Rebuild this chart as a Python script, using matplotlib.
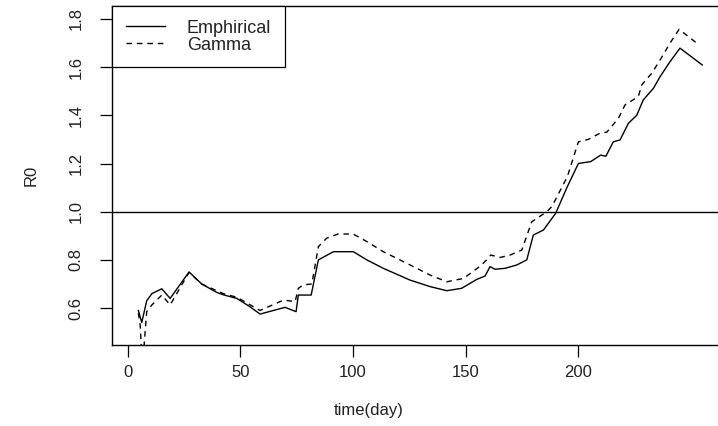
import matplotlib
matplotlib.use("Agg")
import matplotlib.pyplot as plt

plt.rcParams['font.family'] = ['Liberation Sans', 'DejaVu Sans']

# values
emp_day = [4.7, 6.2, 8.4, 10.7, 15.1, 18.8, 27.2, 32.8, 39.5, 42.4, 48.4, 54.3,
           58.7, 69.8, 74.7, 75.7, 81.4, 84.6, 91.3, 100.1, 106.1, 113.4, 125.3,
           134.2, 141.6, 148.2, 154.9, 158.6, 160.8, 163.0, 167.5, 172.7, 177.1,
           180.0, 184.5, 189.9, 195.1, 200.0, 205.5, 209.9, 212.2, 215.5, 218.5,
           222.2, 225.9, 228.8, 233.3, 236.3, 240.7, 245.1, 255.0]
emp_r0 = [0.59, 0.54, 0.63, 0.66, 0.68, 0.64, 0.75, 0.70, 0.665, 0.655, 0.64, 0.605,
          0.575, 0.603, 0.585, 0.654, 0.654, 0.80, 0.834, 0.834, 0.80, 0.765, 0.716,
          0.689, 0.672, 0.682, 0.719, 0.733, 0.772, 0.761, 0.765, 0.779, 0.80,
          0.903, 0.924, 0.993, 1.104, 1.20, 1.208, 1.235, 1.23, 1.29, 1.298,
          1.367, 1.40, 1.464, 1.512, 1.561, 1.623, 1.679, 1.609]

gam_day = [4.7, 5.5, 6.3, 7.2, 8.4, 10.7, 15.1, 18.8, 27.2, 32.8, 42.4, 48.4,
           58.7, 69.1, 74.3, 75.7, 77.9, 81.7, 84.6, 88.3, 93.5, 100.1, 106.1,
           113.4, 125.3, 134.2, 141.6, 149.0, 156.4, 159.3, 161.1, 165.2, 169.7,
           174.9, 179.3, 186.0, 188.2, 195.1, 200.0, 204.4, 209.6, 212.6, 217.8,
           220.7, 226.6, 228.1, 232.6, 236.3, 240.7, 244.7, 253.6]
gam_r0 = [0.58, 0.53, 0.38, 0.44, 0.585, 0.613, 0.654, 0.613, 0.748, 0.70, 0.66, 0.645,
          0.59, 0.633, 0.627, 0.682, 0.696, 0.70, 0.855, 0.89, 0.908, 0.907, 0.876,
          0.834, 0.779, 0.737, 0.709, 0.723, 0.774, 0.80, 0.82, 0.81, 0.82,
          0.841, 0.958, 1.0, 1.021, 1.145, 1.29, 1.30, 1.326, 1.33, 1.388,
          1.443, 1.478, 1.526, 1.575, 1.63, 1.70, 1.757, 1.692]

x_ticks = [0, 50, 100, 150, 200]
y_ticks = [0.6, 0.8, 1.0, 1.2, 1.4, 1.6, 1.8]

fig = plt.figure(figsize=(7.18, 4.26), dpi=100)
# plot box runs past the right edge of the picture, as in the reference
ax = fig.add_axes([0.156, 0.190, 0.8535, 0.796])

ax.plot(emp_day, emp_r0, color='black', lw=1.0, label='Emphirical')
ax.plot(gam_day, gam_r0, color='black', lw=1.0, linestyle=(0, (4, 3.5)), label='Gamma')
ax.axhline(1.0, color='black', lw=1.0)

ax.set_xlim(-7.0, 265.0)
ax.set_ylim(0.4464, 1.854)
ax.set_xticks(x_ticks)
ax.set_yticks(y_ticks)
ax.set_xticklabels([str(t) for t in x_ticks])
ax.set_yticklabels(['%.1f' % t for t in y_ticks])

for side in ['left', 'bottom', 'top', 'right']:
    ax.spines[side].set_linewidth(1.0)
    ax.spines[side].set_color('black')

ax.tick_params(axis='both', direction='out', length=8.6, width=0.9,
               colors='black', labelcolor='#222222', labelsize=12)
ax.tick_params(axis='x', pad=6)
ax.tick_params(axis='y', pad=12)
for t in ax.get_yticklabels():
    t.set_rotation(90)
    t.set_va('center')

ax.set_xlabel('time(day)', fontsize=12, color='#222222')
ax.set_ylabel('R0', fontsize=12, color='#222222')
ax.xaxis.set_label_coords(0.419, -0.192)
ax.yaxis.set_label_coords(-0.132, 0.5)
ax.xaxis.label.set_va('center')
ax.yaxis.label.set_va('center')

leg = ax.legend(loc='upper left', bbox_to_anchor=(0.0, 1.0), fontsize=13,
                frameon=True, fancybox=False, edgecolor='black', framealpha=1,
                handlelength=2.2, handletextpad=1.2, borderpad=0.75,
                labelspacing=0.0, borderaxespad=0)
leg.get_frame().set_linewidth(0.9)
for txt in leg.get_texts():
    txt.set_color('#222222')

fig.savefig('out.png', dpi=100)
